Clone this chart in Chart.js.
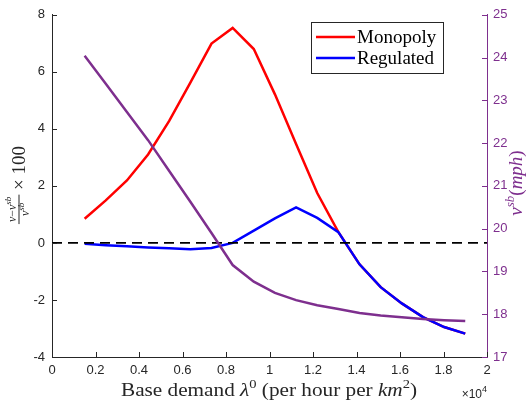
<!DOCTYPE html>
<html><head><meta charset="utf-8">
<script src="https://cdn.jsdelivr.net/npm/chart.js@4.4.1/dist/chart.umd.min.js"></script>
<style>html,body{margin:0;padding:0;background:#fff;}#wrap{width:528px;height:406px;}</style>
</head><body><div id="wrap"><canvas id="c" width="528" height="406"></canvas></div>
<script>
// ---- data ----
const lambda = [1500, 2472, 3444, 4417, 5389, 6361, 7333, 8306, 9278, 10250, 11222, 12194, 13167, 14139, 15111, 16083, 17056, 18028, 19000];
const monopoly = [0.85, 1.49, 2.19, 3.10, 4.28, 5.62, 6.99, 7.54, 6.80, 5.21, 3.47, 1.75, 0.38, -0.75, -1.55, -2.12, -2.60, -2.95, -3.18];
const regulated = [-0.03, -0.08, -0.12, -0.16, -0.19, -0.22, -0.18, 0.00, 0.43, 0.86, 1.25, 0.88, 0.38, -0.75, -1.55, -2.12, -2.60, -2.95, -3.18];
const vsb = [24.04, 23.39, 22.73, 22.07, 21.35, 20.63, 19.90, 19.15, 18.76, 18.50, 18.33, 18.21, 18.12, 18.03, 17.97, 17.93, 17.89, 17.86, 17.84];
const seriesNames = ['Monopoly', 'Regulated'];
const refLevel = 0;
const refRange = [0, 20000];
const xTicks = [0, 2000, 4000, 6000, 8000, 10000, 12000, 14000, 16000, 18000, 20000];
const xTickLabels = ['0', '0.2', '0.4', '0.6', '0.8', '1', '1.2', '1.4', '1.6', '1.8', '2'];
const leftTicks = [-4, -2, 0, 2, 4, 6, 8];
const rightTicks = [17, 18, 19, 20, 21, 22, 23, 24, 25];

const AX = '#262626', PURPLE = '#7E2F8E', RED = '#FF0000', BLUE = '#0000FF';
const SANS = '"Liberation Sans", Arial, sans-serif';
const SERIF = '"Liberation Serif", "Times New Roman", serif';

const pts = (xs, ys) => xs.map((x, i) => ({x: x, y: ys[i]}));

function drawRuns(ctx, runs, x, y, align) {
  let total = 0;
  runs.forEach(r => { ctx.font = r.f; r.w = ctx.measureText(r.t).width; total += r.w; });
  let cx = align === 'center' ? x - total / 2 : (align === 'right' ? x - total : x);
  ctx.textAlign = 'left';
  ctx.textBaseline = 'alphabetic';
  runs.forEach(r => { ctx.font = r.f; ctx.fillText(r.t, cx, y + (r.dy || 0)); cx += r.w; });
  return total;
}
function runsWidth(ctx, runs) {
  let t = 0; runs.forEach(r => { ctx.font = r.f; t += ctx.measureText(r.t).width; }); return t;
}

const decor = {
  id: 'decor',
  afterDraw(chart) {
    const ctx = chart.ctx;
    const xs = chart.scales.x, yl = chart.scales.y, yr = chart.scales.y1;
    const a = chart.chartArea;
    ctx.save();
    // inward ticks
    ctx.lineWidth = 1;
    ctx.strokeStyle = AX;
    ctx.beginPath();
    xTicks.forEach(v => { const p = Math.round(xs.getPixelForValue(v)) + 0.5; ctx.moveTo(p, a.bottom); ctx.lineTo(p, a.bottom - 5); });
    leftTicks.forEach(v => { const p = Math.round(yl.getPixelForValue(v)) + 0.5; ctx.moveTo(a.left, p); ctx.lineTo(a.left + 5, p); });
    ctx.stroke();
    ctx.strokeStyle = PURPLE;
    ctx.beginPath();
    rightTicks.forEach(v => { const p = Math.round(yr.getPixelForValue(v)) + 0.5; ctx.moveTo(a.right, p); ctx.lineTo(a.right - 5, p); });
    ctx.stroke();

    // x title (stretched horizontally to match the LaTeX width)
    ctx.fillStyle = AX;
    const R = '19px ' + SERIF, I = 'italic 19px ' + SERIF, S = '13px ' + SERIF, SI = 'italic 13px ' + SERIF;
    const xt = [
      {t: 'Base demand ', f: R}, {t: 'λ', f: I}, {t: '0', f: S, dy: -8},
      {t: ' (per hour per ', f: R}, {t: 'km', f: I}, {t: '2', f: S, dy: -8}, {t: ')', f: R}
    ];
    const xw = runsWidth(ctx, xt);
    ctx.save();
    ctx.translate(269, 396);
    ctx.scale(296 / xw, 1);
    drawRuns(ctx, xt, 0, 0, 'center');
    ctx.restore();

    // x10^4
    drawRuns(ctx, [{t: '×10', f: '12px ' + SANS}, {t: '4', f: '9px ' + SANS, dy: -6}], 487, 398, 'right');

    // left y title (rotated)
    ctx.save();
    ctx.translate(19, 185);
    ctx.rotate(-Math.PI / 2);
    const F = 'italic 12px ' + SERIF, FS = 'italic 9px ' + SERIF, FR = '12px ' + SERIF;
    const num = [{t: 'v', f: F}, {t: '−', f: FR}, {t: 'v', f: F}, {t: 'sb', f: FS, dy: -5}];
    const den = [{t: 'v', f: F}, {t: 'sb', f: FS, dy: -5}];
    const nw = runsWidth(ctx, num), dw = runsWidth(ctx, den);
    const fw = Math.max(nw, dw) + 4;
    const tail = [{t: ' × 100', f: '19px ' + SERIF}];
    const tw = runsWidth(ctx, tail);
    const total = fw + tw;
    const u0 = -total / 2;
    drawRuns(ctx, num, u0 + fw / 2, -3, 'center');
    drawRuns(ctx, den, u0 + fw / 2, 10, 'center');
    ctx.fillRect(u0, -0.5, fw, 1);
    drawRuns(ctx, tail, u0 + fw, 6, 'left');
    ctx.restore();

    // right y title (rotated)
    ctx.save();
    ctx.fillStyle = PURPLE;
    ctx.translate(522, 183);
    ctx.rotate(-Math.PI / 2);
    drawRuns(ctx, [
      {t: 'v', f: I}, {t: 'sb', f: SI, dy: -8}, {t: '(', f: R}, {t: 'mph', f: I}, {t: ')', f: R}
    ], 0, 0, 'center');
    ctx.restore();

    // legend
    const lx = 311.5, ly = 22.5, lw = 132, lh = 51;
    ctx.fillStyle = '#ffffff';
    ctx.fillRect(lx, ly, lw, lh);
    ctx.strokeStyle = AX;
    ctx.lineWidth = 1;
    ctx.strokeRect(lx, ly, lw, lh);
    const items = chart.data.datasets.filter(d => seriesNames.includes(d.label));
    items.sort((p, q) => seriesNames.indexOf(p.label) - seriesNames.indexOf(q.label));
    items.forEach((d, i) => {
      const yy = 37 + i * 21;
      ctx.strokeStyle = d.borderColor;
      ctx.lineWidth = 2.5;
      ctx.beginPath(); ctx.moveTo(316, yy); ctx.lineTo(355, yy); ctx.stroke();
      ctx.fillStyle = '#000';
      drawRuns(ctx, [{t: d.label, f: R}], 357, yy + 6, 'left');
    });
    ctx.restore();
  }
};

const fixW = w => function (s) { s.width = w; };
new Chart(document.getElementById('c'), {
  type: 'line',
  data: {
    datasets: [
      {label: 'vsb', data: pts(lambda, vsb), yAxisID: 'y1', borderColor: PURPLE, borderWidth: 2.5, order: 0},
      {label: 'ref', data: [{x: refRange[0], y: refLevel}, {x: refRange[1], y: refLevel}], yAxisID: 'y', borderColor: '#000', borderWidth: 1.8, borderDash: [10, 6], order: 1},
      {label: seriesNames[1], data: pts(lambda, regulated), yAxisID: 'y', borderColor: BLUE, borderWidth: 2.5, order: 2},
      {label: seriesNames[0], data: pts(lambda, monopoly), yAxisID: 'y', borderColor: RED, borderWidth: 2.5, order: 3}
    ]
  },
  options: {
    responsive: false, animation: false, devicePixelRatio: 1,
    layout: {padding: {top: 14, left: 0, right: 0, bottom: 0}},
    elements: {point: {radius: 0}, line: {tension: 0, borderCapStyle: 'butt', borderJoinStyle: 'miter', fill: false}},
    plugins: {legend: {display: false}, tooltip: {enabled: false}},
    scales: {
      x: {
        type: 'linear', min: 0, max: 20000,
        afterBuildTicks: s => { s.ticks = xTicks.map(v => ({value: v})); },
        afterFit: s => { s.height = 49; },
        grid: {display: false, drawTicks: false},
        border: {display: true, color: AX, width: 1},
        ticks: {padding: 6, color: AX, font: {family: SANS, size: 13}, maxRotation: 0, autoSkip: false,
          callback: (v, i) => xTickLabels[i]}
      },
      y: {
        position: 'left', min: -4, max: 8,
        afterBuildTicks: s => { s.ticks = leftTicks.map(v => ({value: v})); },
        afterFit: fixW(52),
        grid: {display: false, drawTicks: false},
        border: {display: true, color: AX, width: 1},
        ticks: {padding: 7, color: AX, font: {family: SANS, size: 13}, callback: v => String(v)}
      },
      y1: {
        position: 'right', min: 17, max: 25,
        afterBuildTicks: s => { s.ticks = rightTicks.map(v => ({value: v})); },
        afterFit: fixW(41),
        grid: {display: false, drawTicks: false},
        border: {display: true, color: PURPLE, width: 1},
        ticks: {padding: 6, color: PURPLE, font: {family: SANS, size: 13}, callback: v => String(v)}
      }
    }
  },
  plugins: [decor]
});
</script>
</body></html>
